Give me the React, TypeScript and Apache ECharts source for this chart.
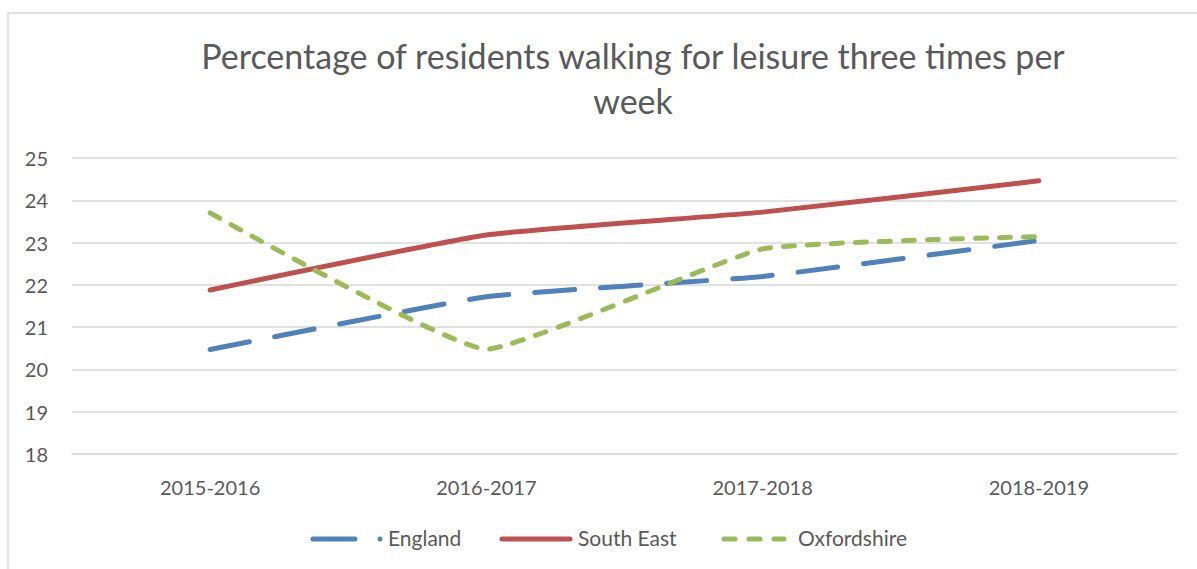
import React, { useEffect, useRef } from "react";
import * as echarts from "echarts";

const categories = ["2015-2016", "2016-2017", "2017-2018", "2018-2019"];
const england = [20.47, 21.72, 22.2, 23.05];
const southEast = [21.88, 23.18, 23.72, 24.46];
const oxfordshire = [23.7, 20.48, 22.85, 23.14];
const yTicks = { min: 18, max: 25, interval: 1 };
const titleText = "Percentage of residents walking for leisure three times per\nweek";
const seriesNames = ["England", "South East", "Oxfordshire"];

const FONT = "Lato, 'Open Sans', sans-serif";
const TEXT = "#595959";
const GRID = "#d9d9d9";
const BLUE = "#4F81BD";
const RED = "#C0504D";
const GREEN = "#9BBB59";

export default function App() {
  const ref = useRef<HTMLDivElement>(null);
  useEffect(() => {
    if (!ref.current) return;
    const chart = echarts.init(ref.current, undefined, { renderer: "svg" });
    const ly = 539;
    const legendText = (x: number, t: string) => ({
      type: "text",
      x,
      y: ly - 2,
      style: { text: t, fill: TEXT, font: `21px ${FONT}`, textVerticalAlign: "middle", textAlign: "left" },
      silent: true,
    });
    chart.setOption({
      animation: false,
      backgroundColor: "#ffffff",
      textStyle: { fontFamily: FONT },
      title: {
        text: titleText,
        left: 628,
        top: 28,
        textAlign: "center",
        textStyle: { fontFamily: FONT, fontSize: 34, fontWeight: "normal", color: TEXT, lineHeight: 45 },
      },
      graphic: [
        {
          type: "rect",
          shape: { x: 8, y: 13, width: 1200, height: 600 },
          style: { fill: "none", stroke: "#d9d9d9", lineWidth: 1.5 },
          silent: true,
        },
        {
          type: "line",
          shape: { x1: 313, y1: ly, x2: 355, y2: ly },
          style: { stroke: BLUE, lineWidth: 5, lineCap: "round" },
          silent: true,
        },
        {
          type: "circle",
          shape: { cx: 380, cy: ly, r: 2.5 },
          style: { fill: BLUE },
          silent: true,
        },
        legendText(388, seriesNames[0]),
        {
          type: "line",
          shape: { x1: 502, y1: ly, x2: 570, y2: ly },
          style: { stroke: RED, lineWidth: 5, lineCap: "round" },
          silent: true,
        },
        legendText(578, seriesNames[1]),
        {
          type: "line",
          shape: { x1: 724, y1: ly, x2: 784, y2: ly },
          style: { stroke: GREEN, lineWidth: 5, lineCap: "round", lineDash: [11, 14] },
          silent: true,
        },
        legendText(798, seriesNames[2]),
      ],
      grid: { left: 72, right: 20, top: 158, bottom: 115, containLabel: false },
      xAxis: {
        type: "category",
        data: categories,
        boundaryGap: true,
        axisLine: { lineStyle: { color: GRID, width: 1.5 } },
        axisTick: { show: false },
        axisLabel: { fontFamily: FONT, fontSize: 20, color: TEXT, margin: 23 },
      },
      yAxis: {
        type: "value",
        min: yTicks.min,
        max: yTicks.max,
        interval: yTicks.interval,
        axisLine: { show: false },
        axisTick: { show: false },
        axisLabel: { fontFamily: FONT, fontSize: 20, color: TEXT, margin: 24 },
        splitLine: { lineStyle: { color: GRID, width: 1.5 } },
      },
      series: [
        {
          name: seriesNames[0],
          type: "line",
          data: england,
          smooth: 0.12,
          symbol: "none",
          color: BLUE,
          lineStyle: { width: 5, color: BLUE, type: [40, 26], cap: "round" },
        },
        {
          name: seriesNames[1],
          type: "line",
          data: southEast,
          smooth: 0.12,
          symbol: "none",
          color: RED,
          lineStyle: { width: 5, color: RED, cap: "round" },
        },
        {
          name: seriesNames[2],
          type: "line",
          data: oxfordshire,
          smooth: 0.12,
          symbol: "none",
          color: GREEN,
          lineStyle: { width: 5, color: GREEN, type: [11, 13], cap: "round" },
        },
      ],
    });
    return () => chart.dispose();
  }, []);
  return (
    <div
      ref={ref}
      style={{ position: "fixed", left: 0, top: 0, width: 1197, height: 569 }}
    />
  );
}
